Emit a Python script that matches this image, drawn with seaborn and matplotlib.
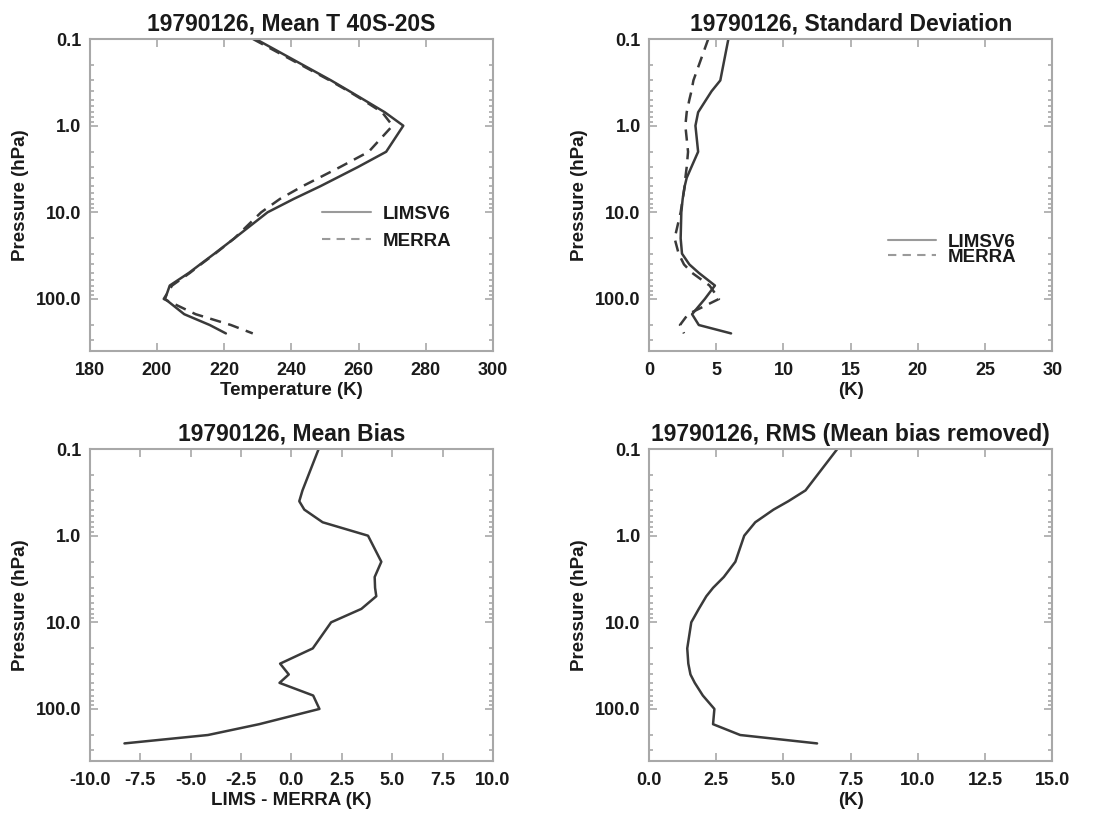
import numpy as np
import pandas as pd
import matplotlib
matplotlib.use("Agg")
import matplotlib.pyplot as plt
from matplotlib.lines import Line2D
from matplotlib.ticker import LogLocator, NullFormatter, MultipleLocator
import seaborn as sns

# pressure levels (hPa)
pressure = [0.1, 0.3, 0.4, 0.5, 0.7, 1, 2, 3, 4, 5, 7, 10,
            20, 30, 40, 50, 70, 100, 150, 200, 250]

# mean temperature 40S-20S (K)
lims_mean = [229.4, 251.8, 257.3, 261.5, 267.8, 273.3, 268.2, 259.8, 253.5, 248.6, 240.7,
             232.9, 223.0, 217.1, 212.8, 209.5, 203.8, 202.4, 208.1, 215.7, 220.5]
merra_mean = [228.6, 251.4, 257.0, 261.1, 267.0, 270.1, 263.0, 254.5, 248.2, 243.3, 236.6,
              231.0, 223.0, 217.3, 213.0, 209.8, 204.5, 202.0, 211.5, 222.0, 228.5]

# standard deviation (K)
lims_std = [5.9, 5.3, 4.65, 4.25, 3.65, 3.45, 3.65, 3.15, 2.8, 2.65, 2.5,
            2.4, 2.35, 2.45, 3.0, 3.7, 4.9, 4.15, 3.2, 3.7, 6.1]
merra_std = [4.4, 3.3, 3.15, 3.0, 2.8, 2.7, 2.9, 2.8, 2.7, 2.65, 2.5,
             2.35, 1.9, 2.2, 2.6, 3.2, 4.5, 5.2, 2.9, 2.3, 2.6]

# LIMS - MERRA mean bias (K)
mean_bias = [1.35, 0.55, 0.39, 0.64, 1.55, 3.8, 4.46, 4.13, 4.15, 4.21, 3.47,
             1.97, 1.06, -0.56, -0.13, -0.59, 1.08, 1.39, -1.6, -4.14, -8.28]

# RMS with mean bias removed (K)
rms = [7.0, 5.82, 5.18, 4.63, 3.95, 3.54, 3.21, 2.78, 2.38, 2.13, 1.85,
       1.57, 1.42, 1.46, 1.54, 1.7, 2.0, 2.43, 2.38, 3.39, 6.25]

date = "19790126"
series_names = ["LIMSV6", "MERRA"]

sns.set_style("white")
plt.rcParams["font.family"] = ["Liberation Sans", "DejaVu Sans"]
plt.rcParams["font.weight"] = "bold"

line_color = "#3a3a3a"
frame_color = "#a8a8a8"
text_color = "#1a1a1a"
dash = (0, (4.5, 3))


def style_axis(ax, xlim, xstep, xfmt, xlabel):
    ax.set_yscale("log")
    ax.set_ylim(400, 0.1)
    ax.set_yticks([0.1, 1, 10, 100])
    ax.set_yticklabels(["0.1", "1.0", "10.0", "100.0"])
    ax.yaxis.set_minor_locator(LogLocator(base=10, subs=np.arange(2, 10)))
    ax.yaxis.set_minor_formatter(NullFormatter())
    ax.set_xlim(*xlim)
    ax.xaxis.set_major_locator(MultipleLocator(xstep))
    ax.set_xticklabels([xfmt.format(v) for v in ax.get_xticks()])
    ax.set_xlim(*xlim)
    ax.tick_params(which="both", direction="in", top=True, right=True, bottom=True, left=True,
                   color=frame_color, width=1.2, labelsize=13, labelcolor=text_color)
    ax.tick_params(axis="x", pad=8)
    ax.tick_params(axis="y", pad=6)
    ax.tick_params(which="major", length=6)
    ax.tick_params(which="minor", length=3)
    for s in ax.spines.values():
        s.set_color(frame_color)
        s.set_linewidth(1.5)
    ax.set_ylabel("Pressure (hPa)", fontsize=13.5, fontweight="bold", color=text_color, labelpad=5)
    ax.set_xlabel(xlabel, fontsize=13.5, fontweight="bold", color=text_color, labelpad=2)
    for lab in ax.get_xticklabels() + ax.get_yticklabels():
        lab.set_fontweight("bold")


def add_legend(ax, anchor, spacing):
    handles = [Line2D([], [], color="#9a9a9a", lw=1.5),
               Line2D([], [], color="#9a9a9a", lw=1.5, linestyle=(0, (4, 3)))]
    leg = ax.legend(handles, series_names, loc="upper left", bbox_to_anchor=anchor,
                    frameon=False, handlelength=2.6, handletextpad=0.6,
                    labelspacing=spacing, prop={"weight": "bold", "size": 13.5})
    for t in leg.get_texts():
        t.set_color(text_color)


fig, axes = plt.subplots(2, 2, figsize=(10.95, 8.14), dpi=100)
plt.subplots_adjust(left=0.082, right=0.961, top=0.952, bottom=0.065,
                    wspace=0.387, hspace=0.314)

kw = dict(sort=False, estimator=None, orient="y", color=line_color, linewidth=1.8)
title_kw = dict(fontsize=16.5, fontweight="bold", color=text_color, pad=6)

# mean temperature
ax = axes[0, 0]
sns.lineplot(x=lims_mean, y=pressure, ax=ax, **kw)
sns.lineplot(x=merra_mean, y=pressure, ax=ax, linestyle=dash, **kw)
style_axis(ax, (180, 300), 20, "{:.0f}", "Temperature (K)")
ax.set_title(f"{date}, Mean T 40S-20S", **title_kw)
add_legend(ax, (0.535, 0.52), 0.53)

# standard deviation
ax = axes[0, 1]
sns.lineplot(x=lims_std, y=pressure, ax=ax, **kw)
sns.lineplot(x=merra_std, y=pressure, ax=ax, linestyle=dash, **kw)
style_axis(ax, (0, 30), 5, "{:.0f}", "(K)")
ax.set_title(f"{date}, Standard Deviation", **title_kw)
add_legend(ax, (0.55, 0.43), -0.12)

# mean bias
ax = axes[1, 0]
sns.lineplot(x=mean_bias, y=pressure, ax=ax, **kw)
style_axis(ax, (-10, 10), 2.5, "{:.1f}", "LIMS - MERRA (K)")
ax.set_title(f"{date}, Mean Bias", **title_kw)

# RMS
ax = axes[1, 1]
sns.lineplot(x=rms, y=pressure, ax=ax, **kw)
style_axis(ax, (0, 15), 2.5, "{:.1f}", "(K)")
ax.set_title(f"{date}, RMS (Mean bias removed)", **title_kw)

fig.savefig("out.png", dpi=100)
